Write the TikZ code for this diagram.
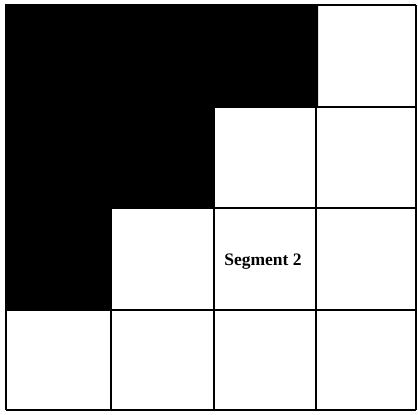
\documentclass[tikz,border=0pt]{standalone}
\usepackage{fontspec}
\setmainfont{Liberation Serif}
\begin{document}
\begin{tikzpicture}[x=1pt,y=-1pt,
  gridline/.style={line width=1.6pt,black},
  seglabel/.style={font=\fontsize{17.5}{19}\selectfont\bfseries,inner sep=0pt}]
\useasboundingbox (0,0) rectangle (418,415);
\fill[white] (0,0) rectangle (418,415);
% grid lines
\foreach \x in {6,111,214,316,416} \draw[gridline] (\x,5) -- (\x,410);
\foreach \y in {5,107,208,310,410} \draw[gridline] (6,\y) -- (416,\y);
% black staircase region
\fill[black] (5,4) -- (318,4) -- (318,107) -- (214,107) -- (214,208)
  -- (111,208) -- (111,310) -- (5,310) -- cycle;
\node[seglabel] (seg2) at (263,262) {Segment 2};
\end{tikzpicture}
\end{document}
